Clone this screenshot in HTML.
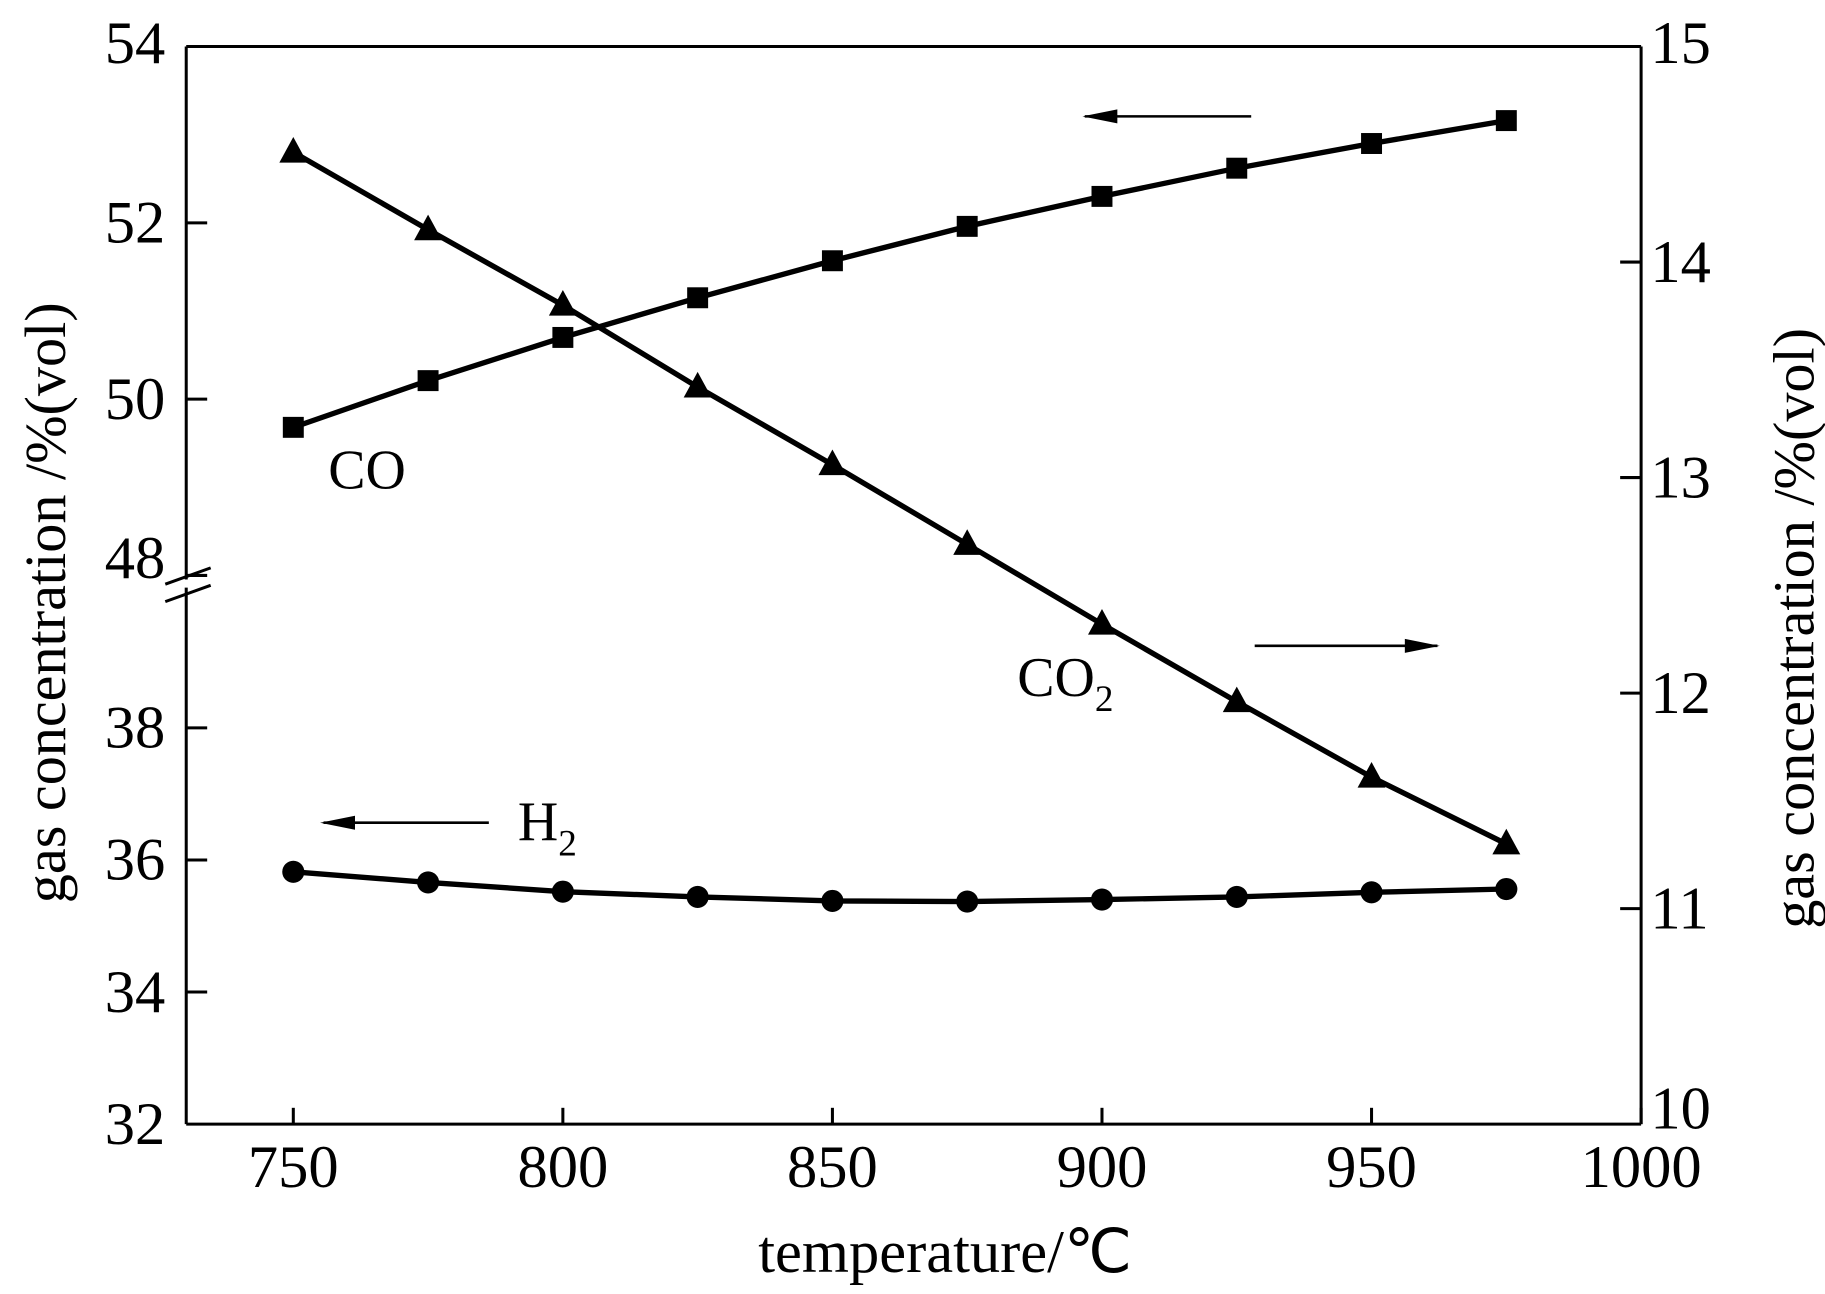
<!DOCTYPE html>
<html><head><meta charset="utf-8"><style>
html,body{margin:0;padding:0;background:#fff}
svg{display:block}
text{font-family:"Liberation Serif",serif;fill:#000}
</style></head><body>
<svg id="chart" width="1825" height="1294" viewBox="0 0 1568 1112" preserveAspectRatio="none" xmlns="http://www.w3.org/2000/svg">
<g id="axes"></g>
<g id="marks"></g>
<g stroke="#000" stroke-width="2.2" fill="none">
<line x1="1075" y1="100" x2="932" y2="100"/><path d="M960 94 L930 100 L960 106" fill="#000" stroke="none"/>
<line x1="1078" y1="555" x2="1235" y2="555"/><path d="M1207 549 L1237 555 L1207 561" fill="#000" stroke="none"/>
<line x1="420" y1="707" x2="278" y2="707"/><path d="M305 701 L275 707 L305 713" fill="#000" stroke="none"/>
</g>
<text x="282" y="420" font-size="48">CO</text>
<text x="874" y="598" font-size="48">CO<tspan font-size="32" dy="13">2</tspan></text>
<text x="445" y="722" font-size="48">H<tspan font-size="32" dy="13">2</tspan></text>
<text x="812" y="1093" font-size="52" text-anchor="middle">temperature/℃</text>
<text transform="translate(56,518) rotate(-90)" font-size="50" text-anchor="middle">gas concentration /%(vol)</text>
<text transform="translate(1558,540) rotate(-90)" font-size="50" text-anchor="middle">gas concentration /%(vol)</text>
</svg>
<script>
const temps=[750,775,800,825,850,875,900,925,950,975];
const coVals=[49.68,50.21,50.70,51.15,51.57,51.96,52.30,52.62,52.90,53.16];
const co2Vals=[14.51,14.15,13.80,13.42,13.06,12.69,12.32,11.96,11.61,11.30];
const h2Vals=[35.82,35.66,35.52,35.44,35.38,35.37,35.40,35.44,35.51,35.56];
const xTicks=[750,800,850,900,950,1000];
const leftLowTicks=[32,34,36,38];
const leftHighTicks=[48,50,52,54];
const rightTicks=[10,11,12,13,14,15];

const L=160,R=1410,T=40,B=966;
const xS=v=>252+(v-750)*(1410-252)/250;
const yLow=v=>966-(v-32)*56.75;
const yHigh=v=>343-(v-50)*75.75;
const yR=v=>966-(v-10)*185.2;
const NS="http://www.w3.org/2000/svg";
function mk(tag,attrs,parent){const e=document.createElementNS(NS,tag);for(const k in attrs)e.setAttribute(k,attrs[k]);parent.appendChild(e);return e;}
const ax=document.getElementById('axes'),mg=document.getElementById('marks');
const sw=2.6;
let e=mk('line',{x1:L,y1:B,x2:R,y2:B,stroke:'#000','stroke-width':sw},ax);

e=mk('line',{x1:L,y1:T,x2:R,y2:T,stroke:'#000','stroke-width':sw},ax);

e=mk('line',{x1:R,y1:T,x2:R,y2:B,stroke:'#000','stroke-width':sw},ax);

e=mk('line',{x1:L,y1:T,x2:L,y2:498,stroke:'#000','stroke-width':sw},ax);

e=mk('line',{x1:L,y1:505,x2:L,y2:B,stroke:'#000','stroke-width':sw},ax);

e=mk('path',{d:'M142 502 L181 488 M142 517 L181 503',stroke:'#000','stroke-width':2.6,fill:'none'},ax);

xTicks.forEach(v=>{const x=xS(v);
 const t=mk('line',{x1:x,y1:B,x2:x,y2:B-14,stroke:'#000','stroke-width':sw},ax);
 
 const l=mk('text',{x:x,y:1020,'font-size':52,'text-anchor':'middle'},ax);l.textContent=v;
 });
leftLowTicks.concat(leftHighTicks).forEach(v=>{const y=v<45?yLow(v):yHigh(v);
 if(v!==32&&v!==54){const t=mk('line',{x1:L,y1:y,x2:L+18,y2:y,stroke:'#000','stroke-width':sw},ax);
 }
 const l=mk('text',{x:142,y:(v===54?y+14:(v===48?y+2:y+17)),'font-size':52,'text-anchor':'end'},ax);l.textContent=v;
 });
rightTicks.forEach(v=>{const y=yR(v);
 if(v!==10&&v!==15){const t=mk('line',{x1:R,y1:y,x2:R-18,y2:y,stroke:'#000','stroke-width':sw},ax);
 }
 const l=mk('text',{x:1418,y:(v===15?y+14:(v===10?y+4:y+17)),'font-size':52},ax);l.textContent=v;
 });
function series(vals,yf,name,marker){
 const pts=temps.map((t,i)=>[xS(t),yf(vals[i])]);
 const p=mk('polyline',{points:pts.map(q=>q.join(',')).join(' '),fill:'none',stroke:'#000','stroke-width':4.6},mg);
 
 pts.forEach(([x,y])=>{let m;
  if(marker==='sq')m=mk('rect',{x:x-9,y:y-9,width:18,height:18,fill:'#000'},mg);
  else if(marker==='ci')m=mk('circle',{cx:x,cy:y,r:9.5,fill:'#000'},mg);
  else m=mk('polygon',{points:`${x},${y-13} ${x-12},${y+9} ${x+12},${y+9}`,fill:'#000'},mg);
  });
}
series(coVals,yHigh,'co','sq');
series(co2Vals,yR,'co2','tri');
series(h2Vals,yLow,'h2','ci');
</script>
</body></html>
